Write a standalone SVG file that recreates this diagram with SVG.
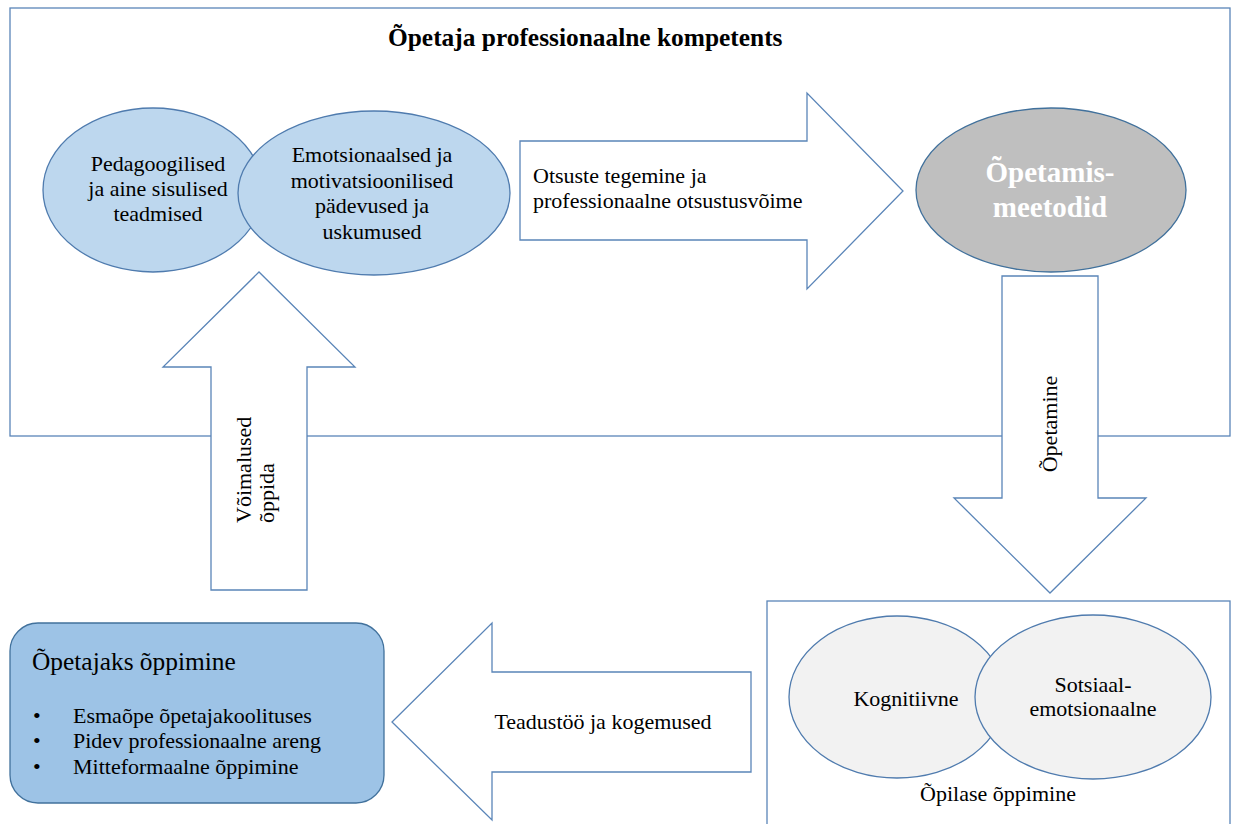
<svg xmlns="http://www.w3.org/2000/svg" width="1233" height="824" viewBox="0 0 1233 824">
<style>
  .frame{fill:none;stroke:#5A85B8;stroke-width:1.3}
  .arrow{fill:#FFFFFF;stroke:#5A85B8;stroke-width:1.3;stroke-linejoin:miter}
  .blue{fill:#BDD7EE;stroke:#4F7BAE;stroke-width:1.3}
  .gray{fill:#BFBFBF;stroke:#41719C;stroke-width:1.3}
  .light{fill:#F2F2F2;stroke:#4F7BAE;stroke-width:1.3}
  .box{fill:#9DC3E6;stroke:#41719C;stroke-width:1.3}
  svg text, svg tspan{font-family:"Liberation Serif", serif !important}
  .t{font-size:22px;fill:#000000}
  .c{text-anchor:middle}
  .title{font-size:25.4px;font-weight:bold;fill:#000000}
  .meth{font-size:29px;font-weight:bold;fill:#FFFFFF;text-anchor:middle}
</style>
<rect width="1233" height="824" fill="#FFFFFF"/>
<g id="competence-frame">
  <rect class="frame" x="10" y="8" width="1220" height="428"/>
  <text class="title" style="font-family:Liberation Serif" x="388" y="46">Õpetaja professionaalne kompetents</text>
</g>
<g id="student-frame">
  <rect class="frame" x="767" y="601" width="463" height="240"/>
</g>
<g id="connectors">
  <g id="arrow-decisions">
    <polygon class="arrow" points="520,141 807,141 807,93 903,191 807,289 807,240 520,240"/>
    <text class="t" style="font-family:Liberation Serif" x="533" y="183">Otsuste tegemine ja</text>
    <text class="t" style="font-family:Liberation Serif" x="533" y="208">professionaalne otsustusvõime</text>
  </g>
  <g id="arrow-teaching">
    <polygon class="arrow" points="1002,276 1098,276 1098,498 1146,498 1050,593 954,498 1002,498"/>
    <text class="t c" style="font-family:Liberation Serif" transform="translate(1057,424) rotate(-90)" x="0" y="0">Õpetamine</text>
  </g>
  <g id="arrow-research">
    <polygon class="arrow" points="751,672 492,672 492,623 392,722 492,820 492,772 751,772"/>
    <text class="t c" style="font-family:Liberation Serif" x="603" y="729">Teadustöö ja kogemused</text>
  </g>
  <g id="arrow-opportunities">
    <polygon class="arrow" points="211,590 211,367 163,367 259,272 355,367 307,367 307,590"/>
    <text class="t" style="font-family:Liberation Serif" transform="translate(251,523) rotate(-90)"><tspan x="0" y="0">Võimalused</tspan><tspan x="0" y="23">õppida</tspan></text>
  </g>
</g>
<g id="node-pedagogical">
  <ellipse class="blue" cx="153" cy="190" rx="110" ry="82"/>
  <text class="t c" style="font-family:Liberation Serif" x="158" y="171">Pedagoogilised</text>
  <text class="t c" style="font-family:Liberation Serif" x="158" y="196">ja aine sisulised</text>
  <text class="t c" style="font-family:Liberation Serif" x="158" y="221">teadmised</text>
</g>
<g id="node-emotional">
  <ellipse class="blue" cx="374" cy="193" rx="136" ry="82"/>
  <text class="t c" style="font-family:Liberation Serif" x="372" y="162">Emotsionaalsed ja</text>
  <text class="t c" style="font-family:Liberation Serif" x="372" y="188">motivatsioonilised</text>
  <text class="t c" style="font-family:Liberation Serif" x="372" y="213">pädevused ja</text>
  <text class="t c" style="font-family:Liberation Serif" x="372" y="239">uskumused</text>
</g>
<g id="node-methods">
  <ellipse class="gray" cx="1051" cy="190" rx="135" ry="82"/>
  <text class="meth" style="font-family:Liberation Serif" x="1050" y="182">Õpetamis-</text>
  <text class="meth" style="font-family:Liberation Serif" x="1050" y="217">meetodid</text>
</g>
<g id="node-cognitive">
  <ellipse class="light" cx="897" cy="697" rx="108" ry="81"/>
  <text class="t c" style="font-family:Liberation Serif" x="906" y="706">Kognitiivne</text>
</g>
<g id="node-social">
  <ellipse class="light" cx="1093" cy="697" rx="118" ry="82"/>
  <text class="t c" style="font-family:Liberation Serif" x="1093" y="692">Sotsiaal-</text>
  <text class="t c" style="font-family:Liberation Serif" x="1093" y="716">emotsionaalne</text>
</g>
<g id="label-student">
  <text class="t c" style="font-family:Liberation Serif" x="998" y="801">Õpilase õppimine</text>
</g>
<g id="node-teacher-learning">
  <rect class="box" x="10" y="623" width="374" height="180" rx="28" ry="28"/>
  <text style="font-family:Liberation Serif" x="32" y="670" font-size="25.4" fill="#000000">Õpetajaks õppimine</text>
  <text class="t" style="font-family:Liberation Serif" x="33" y="723">•</text>
  <text class="t" style="font-family:Liberation Serif" x="73" y="723">Esmaõpe õpetajakoolituses</text>
  <text class="t" style="font-family:Liberation Serif" x="33" y="748">•</text>
  <text class="t" style="font-family:Liberation Serif" x="73" y="748">Pidev professionaalne areng</text>
  <text class="t" style="font-family:Liberation Serif" x="33" y="774">•</text>
  <text class="t" style="font-family:Liberation Serif" x="73" y="774">Mitteformaalne õppimine</text>
</g>
</svg>
